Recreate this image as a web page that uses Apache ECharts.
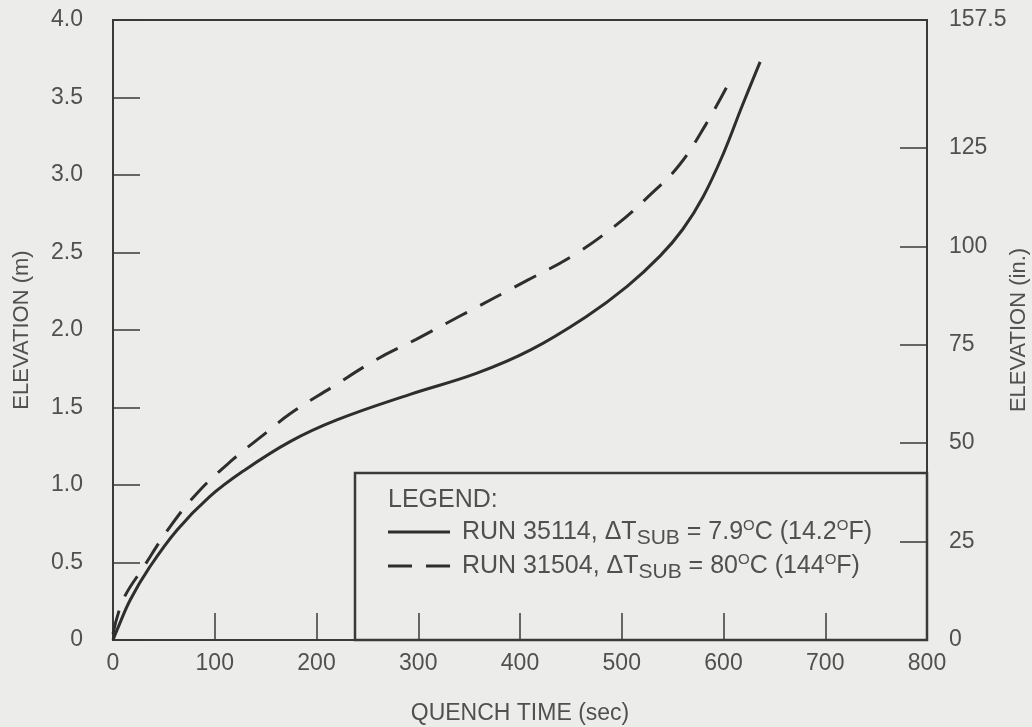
<!DOCTYPE html>
<html>
<head>
<meta charset="utf-8">
<title>Quench time vs elevation</title>
<script src="https://cdn.jsdelivr.net/npm/echarts@6/dist/echarts.min.js"></script>
<style>
  html, body { margin: 0; padding: 0; background: #ececea; }
  #chart { width: 1032px; height: 727px; }
</style>
</head>
<body>
<div id="chart"></div>
<script>
// RUN 35114 (solid) - quench time (sec) vs elevation (m)
const solidTime = [0, 4, 17, 36, 63, 95, 128, 174, 220, 292, 357, 410, 465, 505, 538, 560, 580, 600, 618, 636];
const solidElev = [0, 0.065, 0.26, 0.47, 0.71, 0.925, 1.09, 1.28, 1.42, 1.585, 1.72, 1.87, 2.086, 2.28, 2.48, 2.65, 2.86, 3.14, 3.44, 3.73];

// RUN 31504 (dashed)
const dashTime = [0, 10, 30, 56, 84, 117, 151, 174, 215, 259, 298, 341, 407, 452, 495, 526, 556, 583, 605];
const dashElev = [0.04, 0.26, 0.47, 0.73, 0.957, 1.16, 1.34, 1.46, 1.63, 1.81, 1.94, 2.09, 2.32, 2.48, 2.68, 2.86, 3.06, 3.33, 3.59];

// right hand axis in inches (4.0 m = 157.48 in)
const inchTicks = [25, 50, 75, 100, 125];
const inchLabels = [0, 25, 50, 75, 100, 125, 157.48];

const seriesNames = ['RUN 35114', 'RUN 31504'];

const ink = '#3a3a3a';
const textColor = '#505050';
const font = '"Liberation Sans", Arial, sans-serif';

const zip = (xs, ys) => xs.map((x, i) => [x, ys[i]]);

const chart = echarts.init(document.getElementById('chart'));

const legendRich = {
  sub: { fontSize: 21, fill: textColor, padding: [13, 0, 0, 0] },
  sup: { fontSize: 15, fill: textColor, padding: [0, 0, 13, 0] }
};

chart.setOption({
  backgroundColor: '#ececea',
  animation: false,
  textStyle: { fontFamily: font },
  grid: {
    left: 113, top: 20, right: 105, bottom: 87,
    outerBoundsMode: 'none',
    containLabel: false,
    show: true, borderColor: ink, borderWidth: 2, backgroundColor: 'transparent'
  },
  xAxis: {
    type: 'value',
    min: 0, max: 800, interval: 100,
    name: 'QUENCH TIME (sec)',
    nameLocation: 'middle',
    nameGap: 62,
    nameMoveOverlap: false,
    nameTextStyle: { color: textColor, fontSize: 23, fontFamily: font },
    axisLine: { lineStyle: { color: ink, width: 2 } },
    axisTick: { inside: true, length: 27, lineStyle: { color: ink, width: 1.5 } },
    axisLabel: { color: textColor, fontSize: 23, margin: 12, fontFamily: font },
    splitLine: { show: false }
  },
  yAxis: [
    {
      type: 'value',
      min: 0, max: 4, interval: 0.5,
      position: 'left',
      name: 'ELEVATION (m)',
      nameLocation: 'middle',
      nameRotate: 90,
      nameGap: 80,
      nameMoveOverlap: false,
      nameTextStyle: { color: textColor, fontSize: 22, fontFamily: font },
      axisLine: { show: true, lineStyle: { color: ink, width: 2 } },
      axisTick: { show: true, inside: true, length: 27, lineStyle: { color: ink, width: 1.5 } },
      axisLabel: {
        color: textColor, fontSize: 23, margin: 30, fontFamily: font,
        formatter: v => (v === 0 ? '0' : v.toFixed(1))
      },
      splitLine: { show: false }
    },
    {
      type: 'value',
      min: 0, max: 157.48,
      position: 'right',
      name: 'ELEVATION (in.)',
      nameLocation: 'middle',
      nameRotate: 90,
      nameGap: 81,
      nameMoveOverlap: false,
      nameTextStyle: { color: textColor, fontSize: 22, fontFamily: font },
      axisLine: { show: true, lineStyle: { color: ink, width: 2 } },
      axisTick: { show: true, inside: true, length: 27, customValues: inchTicks, lineStyle: { color: ink, width: 1.5 } },
      axisLabel: {
        color: textColor, fontSize: 23, margin: 22, fontFamily: font,
        customValues: inchLabels,
        formatter: v => (v > 157 ? '157.5' : String(v))
      },
      splitLine: { show: false }
    }
  ],
  series: [
    {
      name: seriesNames[0],
      type: 'line',
      data: zip(solidTime, solidElev),
      smooth: 0.4,
      showSymbol: false,
      lineStyle: { color: '#2e2e2e', width: 3 }
    },
    {
      name: seriesNames[1],
      type: 'line',
      data: zip(dashTime, dashElev),
      smooth: 0.4,
      showSymbol: false,
      lineStyle: { color: '#2e2e2e', width: 3, type: [24, 15] }
    }
  ],
  graphic: [
    {
      type: 'rect',
      shape: { x: 355, y: 473, width: 572, height: 167 },
      style: { fill: 'transparent', stroke: ink, lineWidth: 2.5 },
      z: 10
    },
    {
      type: 'text', x: 388, y: 500, z: 11,
      style: { text: 'LEGEND:', fill: textColor, font: '25px ' + font, verticalAlign: 'middle' }
    },
    {
      type: 'line', z: 11,
      shape: { x1: 388, y1: 532, x2: 450, y2: 532 },
      style: { stroke: '#2e2e2e', lineWidth: 3 }
    },
    {
      type: 'line', z: 11,
      shape: { x1: 388, y1: 566, x2: 450, y2: 566 },
      style: { stroke: '#2e2e2e', lineWidth: 3, lineDash: [24, 14] }
    },
    {
      type: 'text', x: 462, y: 532, z: 11,
      style: {
        text: seriesNames[0] + ', \u0394T{sub|SUB} = 7.9{sup|O}C (14.2{sup|O}F)',
        fill: textColor, font: '25px ' + font, verticalAlign: 'middle',
        rich: legendRich
      }
    },
    {
      type: 'text', x: 462, y: 566, z: 11,
      style: {
        text: seriesNames[1] + ', \u0394T{sub|SUB} = 80{sup|O}C (144{sup|O}F)',
        fill: textColor, font: '25px ' + font, verticalAlign: 'middle',
        rich: legendRich
      }
    }
  ]
});
</script>
</body>
</html>
